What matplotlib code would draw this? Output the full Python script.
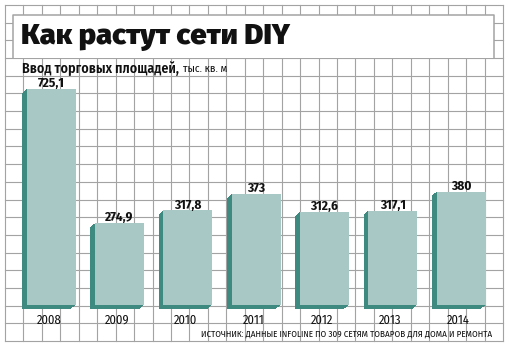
import matplotlib
matplotlib.use("Agg")
import numpy as np
import matplotlib.pyplot as plt
from matplotlib.patches import Rectangle
from matplotlib.transforms import ScaledTranslation

# retail space added by DIY chains, thousand sq. m
years = ["2008", "2009", "2010", "2011", "2012", "2013", "2014"]
values = [725.1, 274.9, 317.8, 373, 312.6, 317.1, 380]
value_labels = ["725,1", "274,9", "317,8", "373", "312,6", "317,1", "380"]

title = "Как растут сети DIY"
subtitle = "Ввод торговых площадей,"
units = "тыс. кв. м"
source = "ИСТОЧНИК: ДАННЫЕ INFOLINE ПО 309 СЕТЯМ ТОВАРОВ ДЛЯ ДОМА И РЕМОНТА"

FACE = "#a8c8c5"
SIDE = "#3f8a80"
GRID = "#a3a3a3"
COND = ["Fira Sans Condensed", "DejaVu Sans"]

W, H = 509, 348
fig = plt.figure(figsize=(W / 100, H / 100), dpi=100)

# squared paper background, in pixels from the top-left corner
bg = fig.add_axes([0, 0, 1, 1])
bg.set_xlim(0, W)
bg.set_ylim(H, 0)
bg.axis("off")
gx0, gx1, gy0, gy1 = 5, 503, 5, 341
ncols, nrows = 27, 19
for i in range(ncols + 1):
    x = gx0 + (gx1 - gx0) * i / ncols
    bg.plot([x, x], [gy0, gy1], color=GRID, lw=0.8, zorder=1)
for j in range(nrows + 1):
    y = gy0 + (gy1 - gy0) * j / nrows
    bg.plot([gx0, gx1], [y, y], color=GRID, lw=0.8, zorder=1)

# white title plate, open at the bottom
bx0, bx1, by0, by1 = 13, 494, 14.5, 57.5
bg.add_patch(Rectangle((bx0, by0), bx1 - bx0, by1 - by0, facecolor="white",
                       edgecolor="none", zorder=2))
bg.plot([bx0, bx0, bx1, bx1], [by1, by0, by0, by1], color=GRID, lw=1.1, zorder=3)

bg.text(21, 44, title, fontsize=21, fontweight=900, family=["Fira Sans", "DejaVu Sans"],
        va="baseline", ha="left", color="#111111", zorder=4)
bg.text(22, 72.5, subtitle, fontsize=10, fontweight="semibold", family=COND,
        va="baseline", ha="left", color="#111111", zorder=4)
bg.text(183, 72.5, units, fontsize=8, family=COND,
        va="baseline", ha="left", color="#111111", zorder=4)
bg.text(492, 334, source, fontsize=6.5, family=COND,
        va="center", ha="right", color="#111111", zorder=4)

# bars on their own axes, mapped onto the same pixels
ax = fig.add_axes([0, 0, 1, 1])
ax.patch.set_alpha(0)
ax.axis("off")
ax.set_xlim(-0.7511, 6.7013)
ax.set_ylim(-144.4, 1024.2)

x = np.arange(len(years))
bar_w = 0.72

# extruded side: sweep of dark copies shifted left and down
for k in np.linspace(0, 1, 10)[1:]:
    shift = ax.transData + ScaledTranslation(-4.6 * k / 100, -3.7 * k / 100, fig.dpi_scale_trans)
    ax.bar(x, values, width=bar_w, color=SIDE, linewidth=0, transform=shift, zorder=2)
ax.bar(x, values, width=bar_w, color=FACE, linewidth=0, zorder=3)

for xi, v, lab in zip(x, values, value_labels):
    ax.annotate(lab, (xi, v), xytext=(0, 1.3), textcoords="offset points",
                ha="center", va="baseline", fontsize=9.5, fontweight="bold",
                family=COND, color="#111111")

for xi, yr in zip(x, years):
    ax.annotate(yr, (xi, 0), xytext=(-1.8, -11), textcoords="offset points",
                ha="center", va="center", fontsize=9, family=COND, color="#111111")

fig.savefig("out.png", dpi=100)
